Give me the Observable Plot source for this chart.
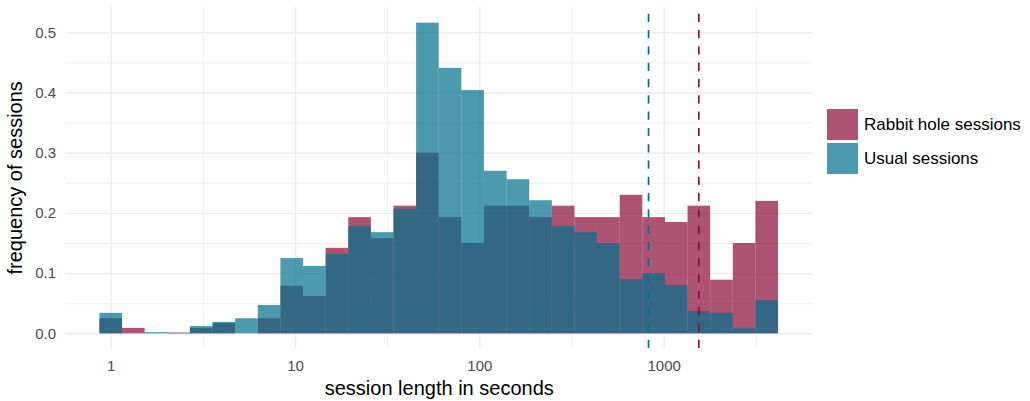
<!DOCTYPE html>
<html>
<head>
<meta charset="utf-8">
<script src="https://cdn.jsdelivr.net/npm/d3@7"></script>
<script src="https://cdn.jsdelivr.net/npm/@observablehq/plot@0.6"></script>
<style>
  html, body { margin: 0; padding: 0; background: #fff; }
  #wrap { position: relative; width: 1030px; height: 401px; font-family: "Liberation Sans", Arial, Helvetica, sans-serif; }
  #legend { position: absolute; left: 827px; top: 109px; }
  .item { display: flex; align-items: center; height: 31px; margin-bottom: 3px; }
  .sw { width: 31px; height: 31px; margin-right: 6px; }
  .lab { font-size: 17px; color: #000; }
</style>
</head>
<body>
<div id="wrap"></div>
<script>
// ---- data ----
const seriesNames = ["Rabbit hole sessions", "Usual sessions"];
const seriesColors = ["#8b0c38", "#006f8b"];
// 30 log-spaced bins: centres run from 1 s to 10^3.5593 s
const binCount = 30;
const logMin = 0, logMax = 3.5593;
const rabbit = [0.025, 0.009, 0, 0.001, 0.009, 0.017, 0, 0.025, 0.079, 0.062,
                0.142, 0.193, 0.158, 0.212, 0.300, 0.193, 0.150, 0.212, 0.212, 0.193,
                0.212, 0.193, 0.193, 0.230, 0.193, 0.185, 0.212, 0.089, 0.150, 0.220];
const usual  = [0.034, 0, 0.002, 0.001, 0.012, 0.019, 0.025, 0.047, 0.125, 0.112,
                0.132, 0.178, 0.168, 0.207, 0.516, 0.441, 0.404, 0.270, 0.256, 0.221,
                0.178, 0.168, 0.150, 0.090, 0.100, 0.080, 0.037, 0.034, 0.009, 0.055];
const medians = [1542, 823]; // rabbit, usual
const xTicks = [1, 10, 100, 1000];
const xMinor = [Math.sqrt(10), Math.sqrt(1000), Math.sqrt(100000), Math.sqrt(10000000)];
const yTicks = [0, 0.1, 0.2, 0.3, 0.4, 0.5];
const yMinor = [0.05, 0.15, 0.25, 0.35, 0.45];

// ---- build table ----
const w = (logMax - logMin) / (binCount - 1);
function rows(values, name) {
  return values.map((v, i) => ({
    x1: Math.pow(10, logMin - w / 2 + i * w),
    x2: Math.pow(10, logMin + w / 2 + i * w),
    y: v, series: name
  }));
}
const rabbitRows = rows(rabbit, seriesNames[0]);
const usualRows = rows(usual, seriesNames[1]);
const yDomain = [-0.0244, 0.5425];
const xDomain = [Math.pow(10, -0.2455), Math.pow(10, 3.805)];
const medRows = medians.map((m, i) => ({x: m, c: seriesColors[i]}));

const chart = Plot.plot({
  width: 1030,
  height: 401,
  marginLeft: 65.5,
  marginRight: 218,
  marginTop: 6.7,
  marginBottom: 53,
  style: {fontFamily: "'Liberation Sans', Arial, Helvetica, sans-serif", background: "#fff"},
  x: {type: "log", domain: xDomain},
  y: {domain: yDomain},
  marks: [
    Plot.gridX(xMinor, {stroke: "#ebebeb", strokeOpacity: 1, strokeWidth: 0.8}),
    Plot.gridX(xTicks, {stroke: "#ebebeb", strokeOpacity: 1, strokeWidth: 1.4}),
    Plot.gridY(yMinor, {stroke: "#ebebeb", strokeOpacity: 1, strokeWidth: 0.8}),
    Plot.gridY(yTicks, {stroke: "#ebebeb", strokeOpacity: 1, strokeWidth: 1.4}),
    Plot.rectY(rabbitRows, {x1: "x1", x2: "x2", y1: 0, y2: "y", fill: seriesColors[0], fillOpacity: 0.7}),
    Plot.rectY(usualRows, {x1: "x1", x2: "x2", y1: 0, y2: "y", fill: seriesColors[1], fillOpacity: 0.7}),
    Plot.ruleX(medRows, {x: "x", y1: yDomain[0], y2: yDomain[1], stroke: "c", strokeWidth: 1.7, strokeDasharray: "8.2,8.1"}),
    Plot.axisX(xTicks, {tickSize: 0, tickPadding: 12, fontSize: 15, fill: "#4d4d4d", tickFormat: d3.format("d"),
      label: "session length in seconds", labelAnchor: "center", labelArrow: "none", labelOffset: 46}),
    Plot.axisY(yTicks, {tickSize: 0, tickPadding: 10, fontSize: 15, fill: "#4d4d4d", tickFormat: d3.format(".1f"),
      label: "frequency of sessions", labelAnchor: "center", labelArrow: "none", labelOffset: 58})
  ]
});

// style axis titles
chart.querySelectorAll("g[aria-label='x-axis label'] text, g[aria-label='y-axis label'] text").forEach(t => {
  t.setAttribute("font-size", "20");
  t.style.fontSize = "20px";
  t.setAttribute("fill", "#000");
});
chart.querySelectorAll("g[aria-label='x-axis label'], g[aria-label='y-axis label']").forEach(g => {
  g.setAttribute("fill", "#000");
  g.setAttribute("font-size", "20");
});

const wrap = document.getElementById("wrap");
wrap.appendChild(chart);

// legend
const legend = document.createElement("div");
legend.id = "legend";
seriesNames.forEach((name, i) => {
  const item = document.createElement("div");
  item.className = "item";
  const sw = document.createElement("div");
  sw.className = "sw";
  sw.style.background = seriesColors[i];
  sw.style.opacity = 0.7;
  const lab = document.createElement("span");
  lab.className = "lab";
  lab.textContent = name;
  item.appendChild(sw);
  item.appendChild(lab);
  legend.appendChild(item);
});
wrap.appendChild(legend);
</script>
</body>
</html>
